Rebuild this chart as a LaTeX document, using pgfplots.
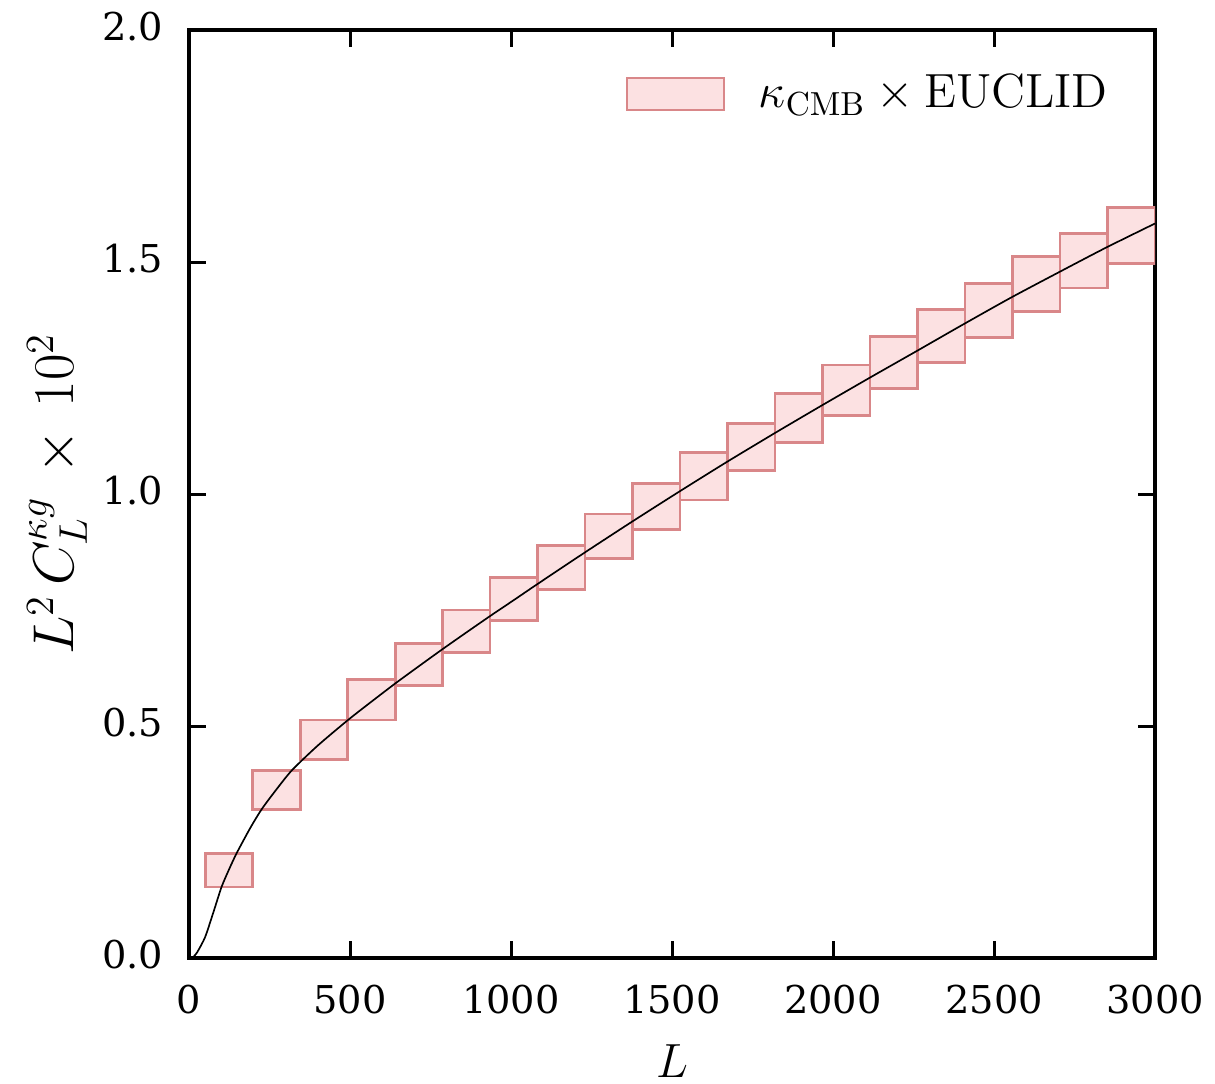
\documentclass[border=0pt]{standalone}
\usepackage[no-math]{fontspec}
\newfontfamily\tickfont{DejaVu Serif}
\usepackage{pgfplots}
\usepackage{pgfplotstable}
\pgfplotsset{compat=1.18}
\definecolor{boxfill}{RGB}{252,225,226}
\definecolor{boxedge}{RGB}{217,135,137}

% bins: L range and error-box extent in y
\pgfplotstableread{
lo hi ylo yhi
50 197.5 0.153 0.226
197.5 345 0.321 0.405
345 492.5 0.427 0.513
492.5 640 0.513 0.601
640 787.5 0.588 0.677
787.5 935 0.659 0.750
935 1082.5 0.727 0.820
1082.5 1230 0.795 0.889
1230 1377.5 0.861 0.957
1377.5 1525 0.924 1.023
1525 1672.5 0.987 1.089
1672.5 1820 1.050 1.152
1820 1967.5 1.111 1.217
1967.5 2115 1.169 1.278
2115 2262.5 1.228 1.339
2262.5 2410 1.284 1.397
2410 2557.5 1.338 1.454
2557.5 2705 1.394 1.511
2705 2852.5 1.444 1.562
2852.5 3000 1.496 1.618
}\bins

% theory curve
\pgfplotstableread{
L C
10 0.000
25 0.012
50 0.045
75 0.097
101 0.153
125 0.192
148 0.226
190 0.280
226 0.321
270 0.362
320 0.405
400 0.458
492 0.512
560 0.549
641 0.592
720 0.632
788 0.666
860 0.701
935 0.737
1010 0.772
1080 0.805
1227 0.873
1375 0.940
1522 1.005
1670 1.069
1816 1.130
1963 1.190
2110 1.249
2257 1.307
2403 1.365
2552 1.423
2696 1.476
2845 1.530
3000 1.583
}\curve

\begin{document}
\begin{tikzpicture}
\begin{axis}[
  name=main,
  scale only axis,
  width=289.8pt, height=278.4pt,
  xmin=0, xmax=3000, ymin=0, ymax=2,
  xtick={0,500,1000,1500,2000,2500,3000},
  ytick={0,0.5,1,1.5,2},
  tick pos=both,
  tick align=inside,
  major tick length=5pt,
  minor tick num=0,
  axis line style={line width=1pt},
  every tick/.style={black, line width=0.9pt},
  /pgf/number format/assume math mode=true,
  /pgf/number format/1000 sep={},
  yticklabel style={/pgf/number format/fixed, /pgf/number format/fixed zerofill, /pgf/number format/precision=1},
  xticklabel style={font=\tickfont\fontsize{11.5}{13}\selectfont, anchor=base, inner sep=0pt, yshift=-16.5pt},
  yticklabel style={font=\tickfont\fontsize{11.5}{13}\selectfont, anchor=east, inner sep=0pt, xshift=-7.5pt, yshift=0.9pt},
  xlabel={$L$},
  ylabel={$L^{2}\,C_L^{\kappa g}\mathbin{\,\times\,}10^2$},
  xlabel style={font=\fontsize{15}{18}\selectfont, at={(axis description cs:0.5,-0.1282)}, anchor=base},
  ylabel style={font=\fontsize{16.5}{19}\selectfont, at={(axis description cs:-0.1366,0.5)}, anchor=center},
  legend style={draw=none, fill=none, at={(axis description cs:0.4513,0.931)}, anchor=west,
    font=\fontsize{14.2}{17}\selectfont, column sep=10pt, inner sep=0pt, nodes={inner sep=0pt}},
  legend cell align=left,
  clip=true,
]
\pgfplotsinvokeforeach{0,...,19}{
  \pgfplotstablegetelem{#1}{lo}\of\bins \edef\xa{\pgfplotsretval}
  \pgfplotstablegetelem{#1}{hi}\of\bins \edef\xb{\pgfplotsretval}
  \pgfplotstablegetelem{#1}{ylo}\of\bins \edef\ya{\pgfplotsretval}
  \pgfplotstablegetelem{#1}{yhi}\of\bins \edef\yb{\pgfplotsretval}
  \edef\doplot{\noexpand\addplot[draw=boxedge, fill=boxfill, line width=0.85pt, forget plot]
    coordinates {(\xa,\ya) (\xb,\ya) (\xb,\yb) (\xa,\yb)} -- cycle;}
  \doplot
}
\addplot[black, line width=0.5pt, smooth, tension=0.4, forget plot] table[x=L, y=C] {\curve};
\addlegendimage{legend image code/.code={
  \draw[draw=boxedge, fill=boxfill, line width=0.85pt] (0pt,-4.8pt) rectangle (29.1pt,4.8pt);}}
\addlegendentry{$\kappa_{\rm CMB}\times {\rm EUCLID}$}
\end{axis}
\pgfresetboundingbox
\path[use as bounding box] ([xshift=-56.7pt, yshift=-37.5pt]main.south west) rectangle ([xshift=18pt, yshift=9pt]main.north east);
\end{tikzpicture}
\end{document}
